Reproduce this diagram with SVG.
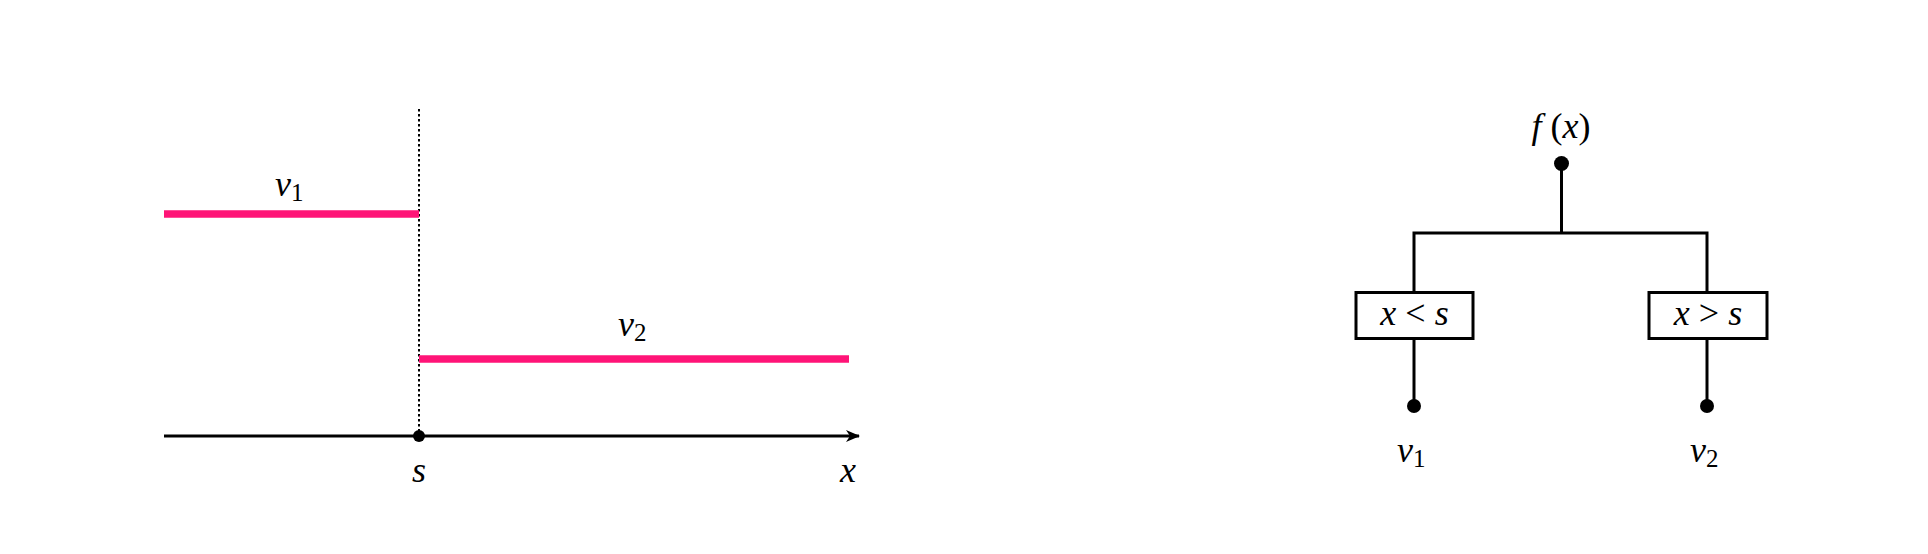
<svg xmlns="http://www.w3.org/2000/svg" width="1928" height="554" viewBox="0 0 1928 554">
<style>
.m{font-family:"Liberation Serif","DejaVu Serif",serif;font-size:36px;fill:#000}
.i{font-style:italic}
.sub{font-size:25px;font-style:normal}
.ln{stroke:#000;stroke-width:3;fill:none}
.pk{stroke:#ff1477;stroke-width:7.5;fill:none}
.box{fill:#fff;stroke:#000;stroke-width:3}
</style>
<defs>
<marker id="arr" viewBox="0 0 14 12" refX="13" refY="6" markerWidth="14" markerHeight="12" markerUnits="userSpaceOnUse" orient="auto">
<path d="M0,0 L14,6 L0,12 L4,6 Z" fill="#000"/>
</marker>
</defs>
<g id="plot">
<line x1="419" y1="109" x2="419" y2="436" stroke="#000" stroke-width="2" stroke-dasharray="2.5,2.5"/>
<line class="pk" x1="164" y1="214" x2="419" y2="214"/>
<line class="pk" x1="419" y1="359" x2="849" y2="359"/>
<line class="ln" x1="164" y1="436" x2="859" y2="436" marker-end="url(#arr)"/>
<circle cx="419" cy="436" r="6" fill="#000"/>
<text class="m i" x="275" y="196">v<tspan class="sub" dy="5">1</tspan></text>
<text class="m i" x="618" y="336">v<tspan class="sub" dy="5">2</tspan></text>
<text class="m i" x="419" y="482" text-anchor="middle">s</text>
<text class="m i" x="848" y="482" text-anchor="middle">x</text>
</g>
<g id="connectors">
<line class="ln" x1="1561.5" y1="163" x2="1561.5" y2="233"/>
<polyline class="ln" points="1414,292 1414,233 1707,233 1707,292"/>
<line class="ln" x1="1414" y1="339" x2="1414" y2="406"/>
<line class="ln" x1="1707" y1="339" x2="1707" y2="406"/>
</g>
<g id="root">
<circle cx="1561.5" cy="163.5" r="7.5" fill="#000"/>
<text class="m" x="1561" y="138" text-anchor="middle"><tspan class="i">f</tspan> (<tspan class="i">x</tspan>)</text>
</g>
<g id="left">
<rect class="box" x="1356" y="292.5" width="117" height="46"/>
<text class="m" x="1414.5" y="325" text-anchor="middle"><tspan class="i">x</tspan>  &lt;  <tspan class="i">s</tspan></text>
</g>
<g id="right">
<rect class="box" x="1649" y="292.5" width="118" height="46"/>
<text class="m" x="1708" y="325" text-anchor="middle"><tspan class="i">x</tspan>  &gt;  <tspan class="i">s</tspan></text>
</g>
<g id="leaf1">
<circle cx="1414" cy="406" r="7" fill="#000"/>
<text class="m i" x="1397" y="462">v<tspan class="sub" dy="5">1</tspan></text>
</g>
<g id="leaf2">
<circle cx="1707" cy="406" r="7" fill="#000"/>
<text class="m i" x="1690" y="462">v<tspan class="sub" dy="5">2</tspan></text>
</g>
</svg>
